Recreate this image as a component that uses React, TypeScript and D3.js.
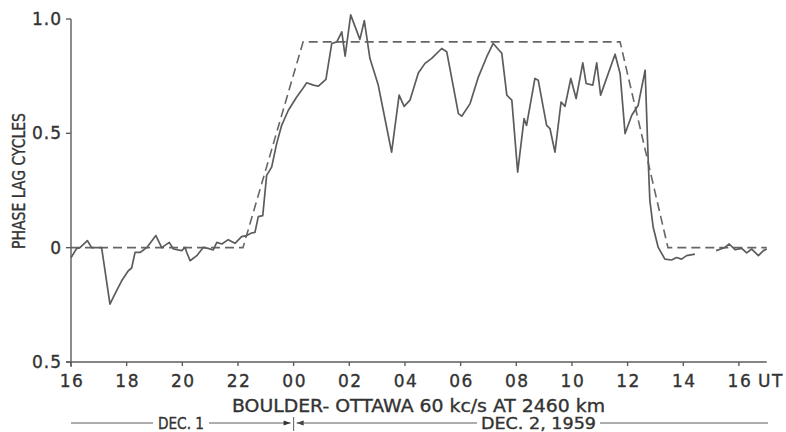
import React from "react";
import * as d3 from "d3";

// Solid measured phase-lag trace (hours from Dec 1 00 UT, phase lag in cycles)
const solidHours1 = [16.0,16.2,16.32,16.59,16.74,17.1,17.4,17.58,17.82,18.06,18.18,18.3,18.48,18.72,19.05,19.26,19.53,19.68,19.98,20.1,20.16,20.28,20.52,20.75,20.93,21.11,21.24,21.42,21.65,21.89,22.13,22.31,22.49,22.61,22.73,22.89,23.03,23.21,23.39,23.57,23.81,24.11,24.29,24.47,24.71,24.89,25.16,25.37,25.55,25.73,25.85,26.05,26.38,26.54,26.74,27.04,27.22,27.52,27.79,27.97,28.18,28.48,28.72,28.96,29.32,29.5,29.74,29.92,30.04,30.34,30.64,30.94,31.17,31.48,31.66,31.84,32.05,32.28,32.37,32.67,32.79,33.09,33.21,33.39,33.61,33.75,33.96,34.15,34.39,34.51,34.75,34.89,35.03,35.55,35.73,35.91,36.15,36.38,36.63,36.74,36.8,36.92,37.1,37.34,37.58,37.76,37.94,38.12,38.42];
const solidValues1 = [-0.044,-0.004,0,0.031,0,0,-0.247,-0.202,-0.145,-0.101,-0.089,-0.021,-0.021,0,0.053,0,0.023,-0.006,-0.013,0.001,-0.021,-0.057,-0.035,0.001,-0.003,-0.01,0.023,0.016,0.035,0.019,0.048,0.053,0.064,0.067,0.136,0.14,0.316,0.352,0.455,0.535,0.601,0.659,0.689,0.721,0.711,0.706,0.736,0.893,0.9,0.944,0.838,1.018,0.911,0.993,0.828,0.711,0.601,0.418,0.667,0.618,0.645,0.764,0.806,0.828,0.871,0.857,0.703,0.586,0.575,0.63,0.747,0.835,0.893,0.85,0.667,0.645,0.33,0.564,0.535,0.74,0.732,0.535,0.521,0.418,0.637,0.618,0.74,0.652,0.808,0.718,0.711,0.808,0.667,0.846,0.762,0.499,0.579,0.623,0.776,0.382,0.206,0.089,0.001,-0.05,-0.054,-0.043,-0.05,-0.035,-0.028];
const solidHours2 = [39.18,39.5,39.65,39.86,40.1,40.28,40.46,40.7,40.88,41.0];
const solidValues2 = [-0.013,0.001,0.016,-0.009,-0.003,-0.023,-0.006,-0.035,-0.013,-0.006];

// Dashed idealised trace
const dashedHours = [16, 22.18, 24.34, 35.73, 37.45, 41];
const dashedValues = [0, 0, 0.9, 0.9, 0, 0];

// Axes
const xTickHours = [16,18,20,22,24,26,28,30,32,34,36,38,40];
const xTickLabels = ["16","18","20","22","00","02","04","06","08","10","12","14","16"];
const yTickValues = [1.0, 0.5, 0, -0.5];
const yTickLabels = ["1.0", "0.5", "0", "0.5"];

const xTitle = "BOULDER- OTTAWA 60 kc/s AT 2460 km";
const yTitle = "PHASE LAG CYCLES";
const day1Label = "DEC. 1";
const day2Label = "DEC. 2, 1959";

const W = 786, H = 432;
const INK = "#333";
const LINE = "#5c5c5c";
const FONT = "'DejaVu Sans', sans-serif";

export default function App() {
  const x = d3.scaleLinear().domain([16, 41]).range([71, 766.75]);
  const y = d3.scaleLinear().domain([-0.5, 1.0]).range([362, 19]);

  const line = d3.line<[number, number]>().x(d => x(d[0])).y(d => y(d[1]));
  const s1 = line(solidHours1.map((h, i) => [h, solidValues1[i]] as [number, number])) || "";
  const s2 = line(solidHours2.map((h, i) => [h, solidValues2[i]] as [number, number])) || "";
  const dsh = line(dashedHours.map((h, i) => [h, dashedValues[i]] as [number, number])) || "";

  const axisY = y(-0.5);
  const dayY = 423;
  const midnight = x(24);
  const textStroke = { stroke: INK, strokeWidth: 0.35 };

  return (
    <svg width={W} height={H} style={{ position: "absolute", left: 0, top: 0, background: "#fff" }}
      fontFamily={FONT}>
      <rect x={0} y={0} width={W} height={H} fill="#fff" />
      {/* dashed model */}
      <path d={dsh} fill="none" stroke="#666" strokeWidth={1.6} strokeDasharray="9,5" />
      {/* measured */}
      <path d={s1} fill="none" stroke={LINE} strokeWidth={1.7} strokeLinejoin="round" />
      <path d={s2} fill="none" stroke={LINE} strokeWidth={1.7} strokeLinejoin="round" />

      {/* axes */}
      <line x1={x(16)} x2={x(16)} y1={y(1.0)} y2={axisY + 5} stroke={LINE} strokeWidth={1.4} />
      <line x1={x(16) - 5} x2={x(41)} y1={axisY} y2={axisY} stroke={LINE} strokeWidth={1.4} />
      {yTickValues.map((v, i) => (
        <g key={"yt" + i}>
          <line x1={x(16) - 5} x2={x(16)} y1={y(v)} y2={y(v)} stroke={LINE} strokeWidth={1.4} />
          <text x={x(16) - 9} y={y(v)} dy="0.36em" textAnchor="end" fontSize={17}
            letterSpacing={1} fill={INK} {...textStroke}>{yTickLabels[i]}</text>
        </g>
      ))}
      {xTickHours.map((h, i) => (
        <g key={"xt" + i}>
          <line x1={x(h)} x2={x(h)} y1={axisY} y2={axisY + 4} stroke={LINE} strokeWidth={1.4} />
          <text x={x(h) + 1} y={386.5} textAnchor="middle" fontSize={17} letterSpacing={1.5}
            fill={INK} {...textStroke}>{xTickLabels[i]}</text>
        </g>
      ))}
      <text x={758} y={386.5} fontSize={17} letterSpacing={1.5} fill={INK} {...textStroke}>UT</text>

      {/* titles */}
      <text x={232} y={411.5} fontSize={17} textLength={373} lengthAdjust="spacingAndGlyphs"
        fill={INK} {...textStroke}>{xTitle}</text>
      <text transform={`translate(25,${181}) rotate(-90)`} textAnchor="middle" fontSize={18}
        textLength={136} lengthAdjust="spacingAndGlyphs" fill={INK} {...textStroke}>{yTitle}</text>

      {/* day annotation */}
      <line x1={71} x2={153} y1={dayY} y2={dayY} stroke={LINE} strokeWidth={1} />
      <text x={158} y={428.5} fontSize={15} textLength={46} lengthAdjust="spacingAndGlyphs" fill={INK} {...textStroke}>{day1Label}</text>
      <line x1={209} x2={midnight - 3} y1={dayY} y2={dayY} stroke={LINE} strokeWidth={1} />
      <path d={`M${midnight - 3},${dayY} l-7,-2.5 l0,5 z`} fill={INK} />
      <line x1={midnight} x2={midnight} y1={dayY - 6} y2={dayY + 8} stroke={LINE} strokeWidth={1} />
      <path d={`M${midnight + 3},${dayY} l7,-2.5 l0,5 z`} fill={INK} />
      <line x1={midnight + 3} x2={477} y1={dayY} y2={dayY} stroke={LINE} strokeWidth={1} />
      <text x={481} y={428.5} fontSize={15} textLength={115} lengthAdjust="spacingAndGlyphs" fill={INK} {...textStroke}>{day2Label}</text>
      <line x1={600} x2={768} y1={dayY} y2={dayY} stroke={LINE} strokeWidth={1} />
    </svg>
  );
}
